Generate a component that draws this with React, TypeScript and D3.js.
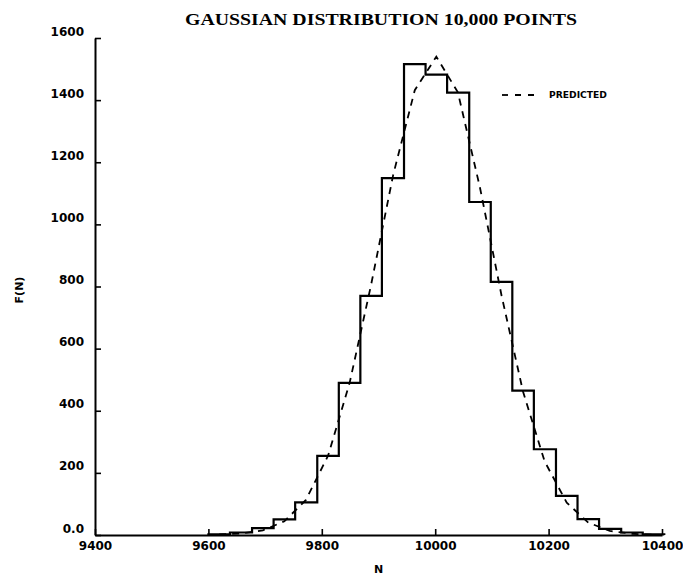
import React, { useRef, useEffect } from 'react';
import * as d3 from 'd3';

// histogram bins (lower edge of each bin, counts)
const binLo = [9600, 9638, 9677, 9715, 9753, 9792, 9830, 9868, 9906, 9945, 9983,
               10021, 10060, 10098, 10136, 10174, 10213, 10251, 10289, 10328, 10366];
const binHi = 10404;
const counts = [2, 8, 22, 50, 105, 255, 490, 770, 1149, 1516, 1482,
                1424, 1072, 815, 465, 276, 126, 51, 20, 8, 2];

// predicted curve (bin centres)
const predN = [9619, 9657, 9696, 9734, 9772, 9811, 9849, 9887, 9926, 9964, 10002,
               10040, 10079, 10117, 10155, 10193, 10232, 10270, 10308, 10347, 10385];
const predF = [2, 5, 15, 44, 113, 255, 489, 806, 1160, 1432, 1540,
               1425, 1118, 771, 461, 237, 104, 40, 13, 4, 1];

const xTicks = [9400, 9600, 9800, 10000, 10200, 10400];
const yTicks = [0, 200, 400, 600, 800, 1000, 1200, 1400, 1600];

const title = 'GAUSSIAN DISTRIBUTION 10,000 POINTS';
const xTitle = 'N';
const yTitle = 'F(N)';
const legendLabel = 'PREDICTED';

export default function App() {
    const chartRef = useRef(null);
    const width = 683, height = 576;

    useEffect(() => {
        const margin = { top: 38, right: 21, bottom: 41, left: 95 };

        const svg = d3.select(chartRef.current);
        svg.selectAll('*').remove();

        const xScale = d3.scaleLinear()
                        .domain([9400, 10400])
                        .range([margin.left, width - margin.right]);

        const yScale = d3.scaleLinear()
                        .domain([0, 1600])
                        .range([height - margin.bottom, margin.top]);

        // histogram as a stepped line
        const steps: [number, number][] = [[binLo[0], 0]];
        binLo.forEach((lo, i) => steps.push([lo, counts[i]]));
        steps.push([binHi, 0]);

        const stepLine = d3.line<[number, number]>()
                        .x(d => xScale(d[0]))
                        .y(d => yScale(d[1]))
                        .curve(d3.curveStepAfter);

        svg.append('path')
            .attr('d', stepLine(steps))
            .attr('fill', 'none')
            .attr('stroke', '#000')
            .attr('stroke-width', 2.2);

        // predicted curve, dashed
        const predLine = d3.line<number>()
                        .x((d, i) => xScale(predN[i]))
                        .y(d => yScale(d));

        svg.append('path')
            .attr('d', predLine(predF))
            .attr('fill', 'none')
            .attr('stroke', '#000')
            .attr('stroke-width', 1.8)
            .attr('stroke-dasharray', '7,6');

        // axes, ticks pointing inwards
        const xAxis = d3.axisBottom(xScale)
                        .tickValues(xTicks)
                        .tickSizeInner(-6)
                        .tickSizeOuter(0)
                        .tickPadding(6)
                        .tickFormat(d3.format('d'));
        const gx = svg.append('g').call(xAxis).attr('transform', `translate(0,${height - margin.bottom})`);

        const yAxis = d3.axisLeft(yScale)
                        .tickValues(yTicks)
                        .tickSizeInner(-6)
                        .tickSizeOuter(0)
                        .tickPadding(11)
                        .tickFormat(d => d === 0 ? '0.0' : String(d));
        const gy = svg.append('g').call(yAxis).attr('transform', `translate(${margin.left},0)`);

        [gx, gy].forEach(g => {
            g.select('.domain').attr('stroke', '#000').attr('stroke-width', 2);
            g.selectAll('.tick line').attr('stroke', '#000').attr('stroke-width', 1.6);
            g.selectAll('.tick text')
                .attr('fill', '#000')
                .style('font-family', '"DejaVu Sans", sans-serif')
                .style('font-weight', 'bold')
                .style('font-size', '12px');
        });
        gy.selectAll('.tick text').attr('dy', '-0.25em'); // labels sit just above their ticks

        // title
        svg.append('text')
            .attr('x', 381)
            .attr('y', 25)
            .style('text-anchor', 'middle')
            .style('font-family', '"Liberation Serif", serif')
            .style('font-weight', 'bold')
            .style('font-size', '16px')
            .attr('textLength', 392)
            .attr('lengthAdjust', 'spacingAndGlyphs')
            .text(title);

        // axis titles
        svg.append('text')
            .attr('transform', `translate(${(margin.left + width - margin.right) / 2},${height - 3})`)
            .style('text-anchor', 'middle')
            .style('font-family', '"DejaVu Sans", sans-serif')
            .style('font-weight', 'bold')
            .style('font-size', '11px')
            .text(xTitle);

        svg.append('text')
            .attr('transform', `translate(${23},${290}) rotate(-90)`)
            .style('text-anchor', 'middle')
            .style('font-family', '"DejaVu Sans", sans-serif')
            .style('font-weight', 'bold')
            .style('font-size', '11px')
            .text(yTitle);

        // legend
        svg.append('line')
            .attr('x1', 502).attr('x2', 541)
            .attr('y1', 95).attr('y2', 95)
            .attr('stroke', '#000')
            .attr('stroke-width', 1.8)
            .attr('stroke-dasharray', '6,7');

        svg.append('text')
            .attr('x', 549)
            .attr('y', 98)
            .style('font-family', '"DejaVu Sans", sans-serif')
            .style('font-weight', 'bold')
            .style('font-size', '8px')
            .attr('textLength', 58)
            .attr('lengthAdjust', 'spacingAndGlyphs')
            .text(legendLabel);

    }, []);

    return (
        <div>
            <svg width={width + 'px'} height={height + 'px'} ref={chartRef}
                 style={{ position: 'absolute', left: 0, top: 0, background: '#fff' }} />
        </div>
    );
}
